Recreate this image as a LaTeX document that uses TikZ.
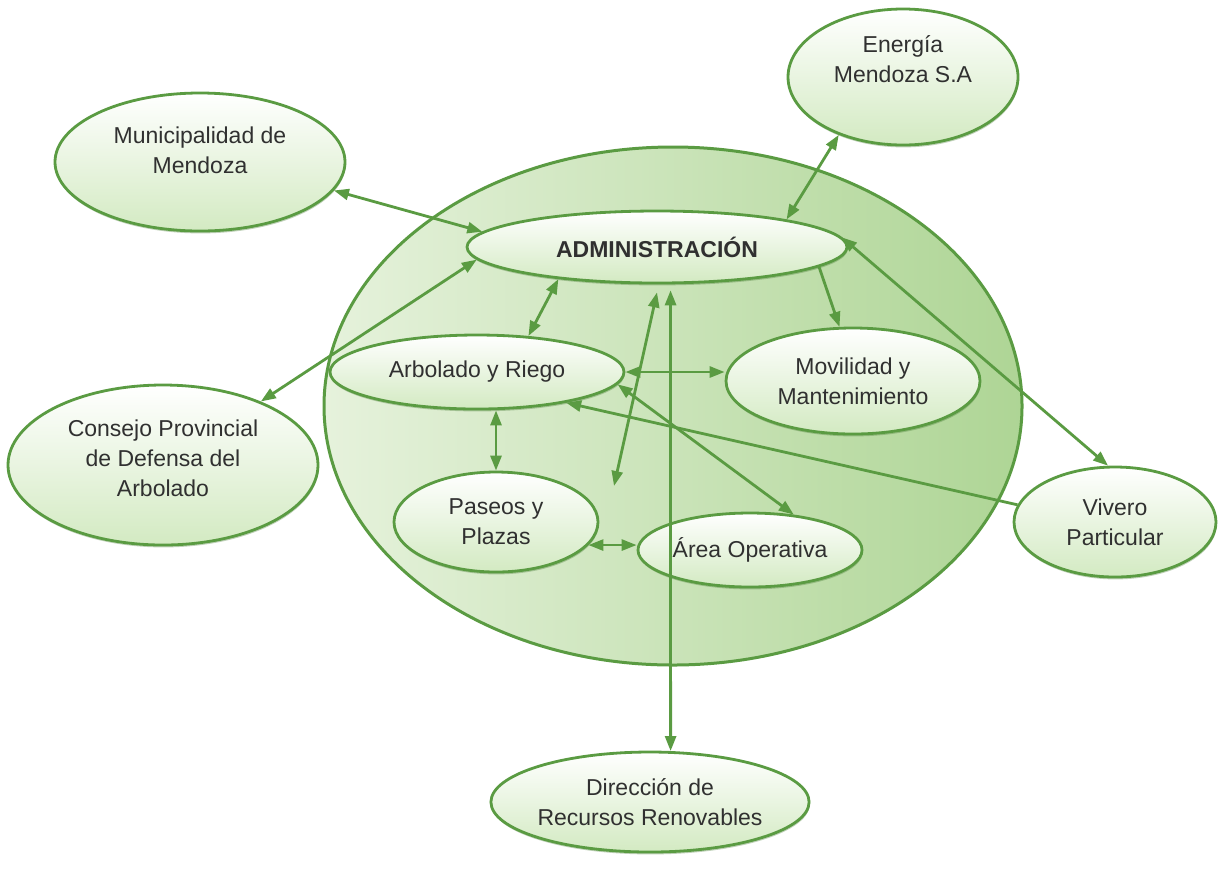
\documentclass[tikz,border=0pt]{standalone}
\usepackage{fontspec}
\setmainfont{Liberation Sans}
\usepackage{tikz}
\usetikzlibrary{arrows.meta,calc,shapes.geometric,shadows}
\definecolor{leaf}{HTML}{5A9B42}
\definecolor{sap}{HTML}{D3EAC2}
\definecolor{bark}{HTML}{303030}
\definecolor{paleleaf}{HTML}{E6F2DC}
\definecolor{midleaf}{HTML}{D8ECCA}
\definecolor{deepleaf}{HTML}{AED595}
\tikzset{
  pod/.style={ellipse,draw=leaf,line width=1.4pt,top color=white,bottom color=sap,
    inner sep=0pt,align=center,text=bark,font=\fontsize{11.5}{15}\selectfont,
    drop shadow={shadow xshift=0.3pt,shadow yshift=-1.2pt,fill=leaf!80!black,opacity=0.35}},
  arr/.style={-{Triangle[length=7.5pt,width=5.5pt]},line width=1.4pt,draw=leaf},
  dbl/.style={arr,{Triangle[length=7.5pt,width=5.5pt]}-{Triangle[length=7.5pt,width=5.5pt]}},
  zone/.style={draw=leaf,line width=1.5pt,left color=paleleaf,middle color=midleaf,right color=deepleaf}
}

\begin{document}
\begin{tikzpicture}[x=0.5pt,y=-0.5pt]
  \useasboundingbox (0,0) rectangle (1218,890);
  % the vivero area
  \draw[zone] (673,406) ellipse [x radius=349, y radius=259];

  \node[pod,minimum width=145pt,minimum height=69pt,text depth=12pt] (muni) at (200,162) {Municipalidad de\\Mendoza};
  \node[pod,minimum width=115pt,minimum height=68pt,text depth=18pt] (energia) at (903,77) {Energía\\Mendoza S.A};
  \node[pod,minimum width=190pt,minimum height=36pt,font=\fontsize{11.5}{15}\selectfont\bfseries] (admin) at (657,247) {ADMINISTRACIÓN};
  \node[pod,minimum width=147pt,minimum height=37pt] (arbolado) at (477,372) {Arbolado y Riego};
  \node[pod,minimum width=127pt,minimum height=53pt] (movilidad) at (853,381) {Movilidad y\\Mantenimiento};
  \node[pod,minimum width=155pt,minimum height=80pt,text depth=7pt] (consejo) at (163,465) {Consejo Provincial\\de Defensa del\\Arbolado};
  \node[pod,minimum width=102pt,minimum height=50pt] (paseos) at (496,522) {Paseos y\\Plazas};
  \node[pod,minimum width=112pt,minimum height=37pt] (area) at (750,550) {Área Operativa};
  \node[pod,minimum width=101pt,minimum height=55pt] (vivero) at (1115,522) {Vivero\\Particular};
  \node[pod,minimum width=157pt,minimum height=50pt] (direccion) at (650,802) {Dirección de\\Recursos Renovables};

  \foreach \a/\b in {muni.-12/admin.175, consejo.33/admin.184, energia.222/admin.12,
      admin.3/vivero.97, admin.198/arbolado.35, arbolado.-5/area.39} {
    \draw[dbl] (\a) -- (\b);
  }
  \draw[arr] (admin.-7) -- (movilidad.104);
  \draw[arr] (vivero.170) -- (arbolado.-19);
  \draw[dbl] ($(admin.south)+(0,8)$) -- ($(paseos.center)+(118,-36)$);
  \draw[dbl] ($(admin.-70)+(0,6)$) -- (direccion.68);
  \draw[dbl] (arbolado.east) -- (arbolado.east -| movilidad.west);
  \draw[dbl] (paseos.north |- arbolado.south) -- (paseos.north);
  \draw[dbl] (paseos.-14) -- (paseos.-14 -| area.west);
\end{tikzpicture}
\end{document}
